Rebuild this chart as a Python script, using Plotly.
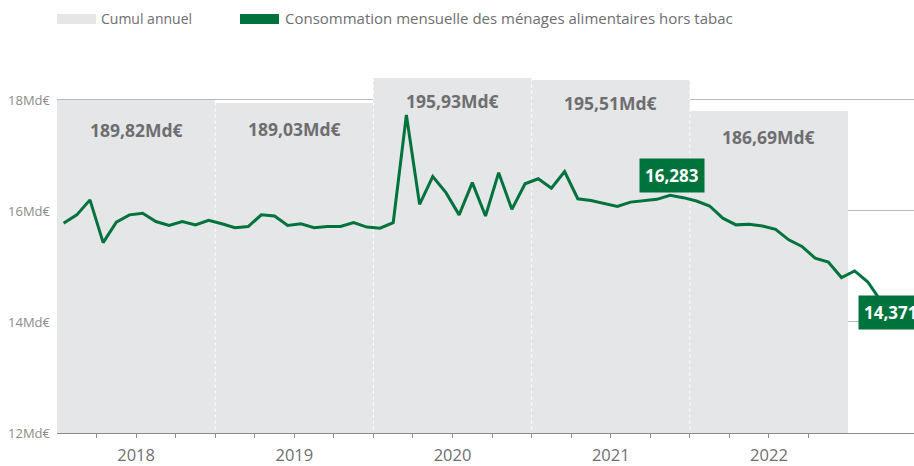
import numpy as np
import plotly.graph_objects as go

# ---------------- data ----------------
years = ["2018", "2019", "2020", "2021", "2022"]
annual_cumul = [189.82, 189.03, 195.93, 195.51, 186.69]          # Md€
annual_labels = ["189,82Md€", "189,03Md€", "195,93Md€", "195,51Md€", "186,69Md€"]

# monthly consumption, Jan 2018 .. Mar 2023 (Md€)
monthly = [
    15.78, 15.93, 16.20, 15.43, 15.80, 15.93, 15.96, 15.81, 15.74, 15.81, 15.75, 15.83,   # 2018
    15.77, 15.70, 15.72, 15.93, 15.91, 15.74, 15.77, 15.70, 15.72, 15.72, 15.79, 15.71,   # 2019
    15.69, 15.79, 17.73, 16.12, 16.62, 16.33, 15.93, 16.51, 15.91, 16.69, 16.03, 16.49,   # 2020
    16.58, 16.41, 16.71, 16.22, 16.19, 16.13, 16.08, 16.16, 16.19, 16.21, 16.283, 16.24,  # 2021
    16.18, 16.09, 15.87, 15.75, 15.76, 15.73, 15.67, 15.48, 15.36, 15.15, 15.08, 14.80,   # 2022
    14.92, 14.72, 14.371,                                                                  # 2023
]
y_ticks = [12, 14, 16, 18]
y_ticktext = ["12Md€", "14Md€", "16Md€", "18Md€"]
highlight_labels = {"16,283": 46, "14,371": len(monthly) - 1}

# ---------------- styles ----------------
GREEN = "#00733c"
GREY_BAR = "#e5e6e8"
TXT = "#6e6e70"
AX = "#8c8c8c"
FONT = "Open Sans"
label_yshift = [-30, -26, -23, -23, -26]

month_x = np.arange(len(monthly)) + 0.5
year_x = [12 * k + 6 for k in range(len(years))]

fig = go.Figure()

# annual cumulative bars (hidden axis y)
fig.add_trace(go.Bar(
    x=year_x, y=annual_cumul, width=12,
    marker=dict(color=GREY_BAR, line=dict(width=0)),
    yaxis="y", name="Cumul annuel", hoverinfo="skip",
))

# dashed white separators between years
sep_x, sep_y = [], []
for k in range(1, len(years)):
    sep_x += [12 * k, 12 * k, None]
    sep_y += [0, max(annual_cumul[k - 1], annual_cumul[k]), None]
fig.add_trace(go.Scatter(
    x=sep_x, y=sep_y, mode="lines", yaxis="y",
    line=dict(color="white", width=1, dash="3px,3px"),
    hoverinfo="skip", showlegend=False,
))

# monthly line
fig.add_trace(go.Scatter(
    x=month_x, y=monthly, mode="lines", yaxis="y2",
    line=dict(color=GREEN, width=3),
    name="Consommation mensuelle des ménages alimentaires hors tabac",
))

annotations = []
for xv, v, lab, ys in zip(year_x, annual_cumul, annual_labels, label_yshift):
    annotations.append(dict(
        x=xv, y=v, xref="x", yref="y", text=lab, showarrow=False,
        yshift=ys, font=dict(family=FONT, size=17.5, color=TXT, weight="bold"),
    ))

shifts = {"16,283": (2, 20), "14,371": (9, -11)}
for lab, idx in highlight_labels.items():
    dx, dy = shifts[lab]
    annotations.append(dict(
        x=month_x[idx], y=monthly[idx], xref="x", yref="y2", text=lab,
        showarrow=False, xshift=dx, yshift=dy, bgcolor=GREEN, borderpad=5,
        font=dict(family=FONT, size=17, color="white", weight="bold"),
    ))

# manual legend (paper coords): plot area spans x 57..914 px, y 70..433 px
W, H, L, B = 857.0, 363.0, 57.0, 433.0
px = lambda v: (v - L) / W
py = lambda v: (B - v) / H
shapes = [
    dict(type="rect", xref="paper", yref="paper", x0=px(57), x1=px(96), y0=py(24), y1=py(14),
         fillcolor=GREY_BAR, line=dict(width=0)),
    dict(type="rect", xref="paper", yref="paper", x0=px(240), x1=px(279), y0=py(24), y1=py(14),
         fillcolor=GREEN, line=dict(width=0)),
]
annotations += [
    dict(x=px(99), y=py(18), xref="paper", yref="paper", text="Cumul annuel", showarrow=False,
         xanchor="left", yanchor="middle", font=dict(family=FONT, size=14, color=TXT)),
    dict(x=px(283), y=py(18), xref="paper", yref="paper",
         text="Consommation mensuelle des ménages alimentaires hors tabac", showarrow=False,
         xanchor="left", yanchor="middle", font=dict(family=FONT, size=15, color=TXT)),
]

fig.update_layout(
    width=914, height=466,
    margin=dict(l=57, r=0, t=70, b=33, autoexpand=False),
    paper_bgcolor="white", plot_bgcolor="white",
    showlegend=False, bargap=0,
    font=dict(family=FONT, color=AX),
    xaxis=dict(
        range=[0, 65], showgrid=False, zeroline=False,
        tickmode="array", tickvals=year_x, ticktext=years,
        ticks="outside", ticklen=4, tickcolor=AX, tickwidth=1,
        tickfont=dict(size=16.5, color=TXT), ticklabelstandoff=3,
        showline=True, linecolor=AX, linewidth=1,
        minor=dict(tickmode="array", tickvals=list(range(3, 58, 3)),
                   ticks="outside", ticklen=4, tickcolor=AX, tickwidth=1, showgrid=False),
    ),
    yaxis=dict(range=[96.52, 198.17], visible=False, showgrid=False, zeroline=False),
    yaxis2=dict(
        range=[12, 18.54], overlaying="y", side="left",
        tickmode="array", tickvals=y_ticks, ticktext=y_ticktext,
        showgrid=True, gridcolor="#b9b9b9", gridwidth=1, zeroline=False,
        tickfont=dict(size=13, color=AX), ticks="", showline=False,
        ticklabelstandoff=6,
    ),
    shapes=shapes, annotations=annotations,
)

fig.write_html(
    "out.html",
    config={"displayModeBar": False},
    post_script="document.body.style.margin='0';document.body.style.padding='0';",
)
